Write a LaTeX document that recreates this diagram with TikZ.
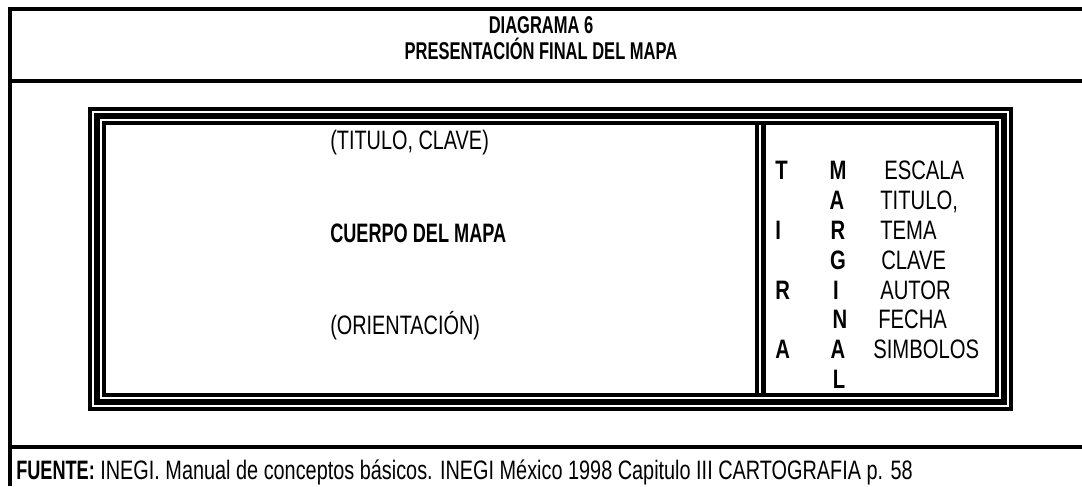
\documentclass[tikz,border=0pt]{standalone}
\usepackage{fontspec}
\setmainfont[FakeStretch=0.745,BoldFeatures={FakeStretch=0.68}]{Liberation Sans}
\newfontfamily\panelfont[FakeStretch=0.76,BoldFeatures={FakeStretch=0.76}]{Liberation Sans}
\usepackage{tikz}

\tikzset{
  frameline/.style={line width=3pt},
  outerthin/.style={line width=3pt},
  thickband/.style={line width=4.5pt},
  innerthin/.style={line width=3pt},
  heading/.style={font=\fontsize{18.2}{22}\selectfont\bfseries, inner sep=0.75pt, anchor=base},
  bodytext/.style={font=\fontsize{20}{24}\selectfont, inner sep=0.75pt, anchor=base west},
  bodybold/.style={font=\fontsize{20}{24}\selectfont\bfseries, inner sep=0.75pt, anchor=base west},
  paneltext/.style={font=\fontsize{20}{24}\selectfont\panelfont, inner sep=0.75pt, anchor=base west},
  panelbold/.style={font=\fontsize{20}{24}\selectfont\panelfont\bfseries, inner sep=0.75pt, anchor=base}
}

\begin{document}
\begin{tikzpicture}[x=0.75pt,y=0.75pt,yscale=-1,xscale=1]
\useasboundingbox (0,0) rectangle (1082,486);
%Page frame
\draw [frameline]    (10,7) -- (10,486) ;
\draw [frameline]    (8,9) -- (1082,9) ;
\draw [frameline]    (10,81) -- (1082,81) ;
\draw [frameline]    (10,447) -- (1082,447) ;
% Text Node
\draw (541,33) node [heading] (diag) {DIAGRAMA 6};
% Text Node
\draw (541,59) node [heading] (pres) {PRESENTACIÓN FINAL DEL MAPA};
%Map frame, three lines
\draw [outerthin]    (90,109) rectangle (1011,409) ;
\draw [thickband]    (97,116) rectangle (1004,402) ;
\draw [innerthin]    (104,123) rectangle (997,395) ;
%Divider
\draw [line width=3pt]    (757,123) -- (757,395) ;
\draw [line width=3.75pt]    (763.5,123) -- (763.5,395) ;
% Text Node
\draw (329,149) node [bodytext] (tit) {(TITULO, CLAVE)};
% Text Node
\draw (329,242) node [bodybold] (cuerpo) {CUERPO DEL MAPA};
% Text Node
\draw (329,334) node [bodytext] (orient) {(ORIENTACIÓN)};
%Column TIRA
\draw (774,179) node [panelbold, anchor=base west] (t1) {T};
\draw (774,239) node [panelbold, anchor=base west] (t2) {I};
\draw (774,299) node [panelbold, anchor=base west] (t3) {R};
\draw (774,358) node [panelbold, anchor=base west] (t4) {A};
%Column MARGINAL
\draw (838,179) node [panelbold] (m1) {M};
\draw (837,209) node [panelbold] (m2) {A};
\draw (838,239) node [panelbold] (m3) {R};
\draw (838,269) node [panelbold] (m4) {G};
\draw (836,299) node [panelbold] (m5) {I};
\draw (840,328) node [panelbold] (m6) {N};
\draw (838,358) node [panelbold] (m7) {A};
\draw (839,388) node [panelbold] (m8) {L};
%Column of elements
\draw (883,179) node [paneltext] (e1) {ESCALA};
\draw (879,209) node [paneltext] (e2) {TITULO,};
\draw (879,239) node [paneltext] (e3) {TEMA};
\draw (880,269) node [paneltext] (e4) {CLAVE};
\draw (879,299) node [paneltext] (e5) {AUTOR};
\draw (877,328) node [paneltext] (e6) {FECHA};
\draw (872,358) node [paneltext] (e7) {SIMBOLOS};
% Text Node
\draw (15,479) node [bodytext] (fuente) {\textbf{FUENTE:} INEGI. Manual de conceptos básicos. INEGI México 1998 Capitulo III CARTOGRAFIA p. 58};
\end{tikzpicture}
\end{document}
